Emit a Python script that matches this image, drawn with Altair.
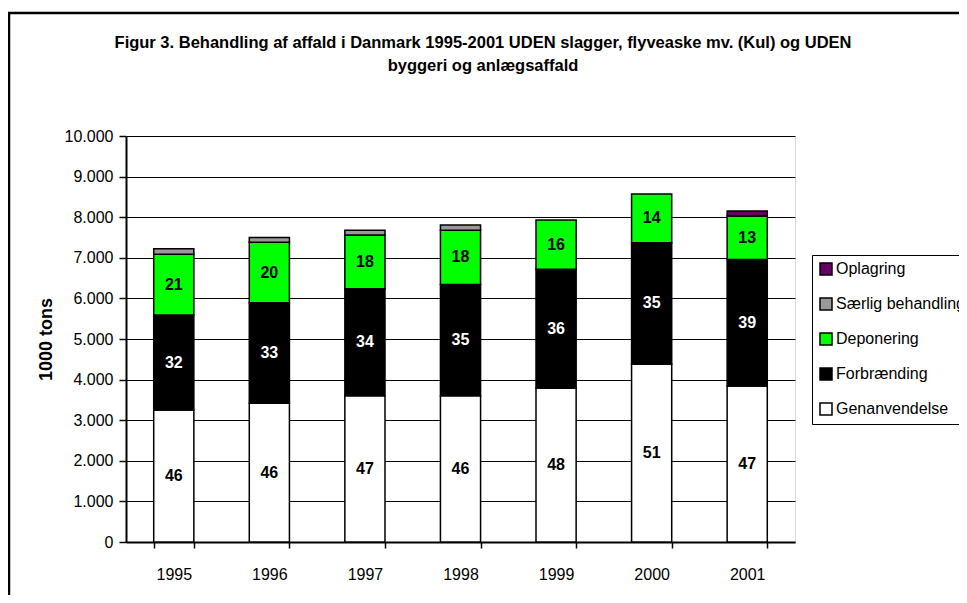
import altair as alt
import pandas as pd

years = ["1995", "1996", "1997", "1998", "1999", "2000", "2001"]
genanvendelse = [3250, 3420, 3600, 3600, 3790, 4380, 3840]
forbraending = [2340, 2470, 2640, 2740, 2930, 2990, 3120]
deponering = [1500, 1490, 1320, 1340, 1210, 1200, 1070]
saerlig = [130, 120, 120, 130, 0, 0, 0]
oplagring = [0, 0, 0, 0, 0, 0, 120]

pct_gen = [46, 46, 47, 46, 48, 51, 47]
pct_forb = [32, 33, 34, 35, 36, 35, 39]
pct_dep = [21, 20, 18, 18, 16, 14, 13]

categories = ["Genanvendelse", "Forbrænding", "Deponering", "Særlig behandling", "Oplagring"]
legend_order = ["Oplagring", "Særlig behandling", "Deponering", "Forbrænding", "Genanvendelse"]
legend_colors = ["#660066", "#999999", "#00FF00", "#000000", "#FFFFFF"]
y_ticks = [0, 1000, 2000, 3000, 4000, 5000, 6000, 7000, 8000, 9000, 10000]

title_line1 = "Figur 3. Behandling af affald i Danmark 1995-2001 UDEN slagger, flyveaske mv. (Kul) og UDEN"
title_line2 = "byggeri og anlægsaffald"

series = [genanvendelse, forbraending, deponering, saerlig, oplagring]
labels = [pct_gen, pct_forb, pct_dep, None, None]
label_colors = ["black", "white", "black", "black", "black"]

rows = []
for ci, (cat, vals) in enumerate(zip(categories, series)):
    for yi, yr in enumerate(years):
        rows.append({
            "year": yr,
            "category": cat,
            "value": vals[yi],
            "order": ci,
            "label": "" if labels[ci] is None else str(labels[ci][yi]),
            "lcolor": label_colors[ci],
        })
df = pd.DataFrame(rows)

FONT = "Liberation Sans"

base = alt.Chart(df).transform_stack(
    stack="value", as_=["v0", "v1"], groupby=["year"], sort=[alt.SortField("order")]
).transform_calculate(mid="(datum.v0 + datum.v1) / 2")

xenc = alt.X(
    "year:N",
    sort=years,
    scale=alt.Scale(paddingInner=0.58, paddingOuter=0.29),
    axis=alt.Axis(
        title=None, labelAngle=0, tickBand="extent", grid=False,
        domainColor="black", domainWidth=2, tickColor="black", tickWidth=1.5, tickSize=6,
        labelFont=FONT, labelFontSize=16, labelColor="black", labelPadding=18,
    ),
)

bars = base.transform_filter("datum.value > 0").mark_bar(
    stroke="black", strokeWidth=1.5
).encode(
    x=xenc,
    y=alt.Y(
        "v0:Q",
        scale=alt.Scale(domain=[0, 10000], nice=False),
        axis=alt.Axis(
            title="1000 tons", values=y_ticks,
            labelExpr="replace(format(datum.value, ','), ',', '.')",
            grid=True, gridColor="black", gridWidth=1,
            domainColor="black", domainWidth=2, tickColor="black", tickWidth=1.5, tickSize=7,
            labelFont=FONT, labelFontSize=16, labelColor="black", labelPadding=6,
            titleFont=FONT, titleFontSize=18, titleFontWeight="bold", titleColor="black",
            titlePadding=9,
        ),
    ),
    y2="v1:Q",
    color=alt.Color(
        "category:N",
        scale=alt.Scale(domain=legend_order, range=legend_colors),
        legend=alt.Legend(
            title=None, orient="none", legendX=686, legendY=119,
            strokeColor="black", fillColor="white", padding=6,
            symbolType="square", symbolSize=144, symbolStrokeColor="black", symbolStrokeWidth=1.5,
            labelFont=FONT, labelFontSize=16, labelColor="black", labelOffset=2,
            rowPadding=17,
        ),
    ),
    order=alt.Order("order:Q"),
)

texts = base.transform_filter("datum.label != ''").mark_text(
    font=FONT, fontSize=16, fontWeight="bold", baseline="middle", align="center"
).encode(
    x=alt.X("year:N", sort=years),
    y=alt.Y("mid:Q"),
    text="label:N",
    color=alt.Color("lcolor:N", scale=None),
)

frame = alt.Chart(alt.Data(values=[{}])).mark_rect(
    fill="transparent", stroke="black", strokeWidth=2.5
).encode(
    x=alt.value(-117), x2=alt.value(900), y=alt.value(-123), y2=alt.value(600)
)

title1 = alt.Chart(alt.Data(values=[{"t": title_line1}])).mark_text(
    font=FONT, fontSize=16.5, fontWeight="bold", color="black", align="center", baseline="middle"
).encode(x=alt.value(357), y=alt.value(-93), text="t:N")

title2 = alt.Chart(alt.Data(values=[{"t": title_line2}])).mark_text(
    font=FONT, fontSize=16.5, fontWeight="bold", color="black", align="center", baseline="middle"
).encode(x=alt.value(357), y=alt.value(-70), text="t:N")

chart = alt.layer(frame, title1, title2, bars, texts).properties(
    width=669, height=406,
    padding={"left": 118, "top": 128, "right": 164, "bottom": 53},
    autosize=alt.AutoSizeParams(type="none"),
).configure_view(
    stroke="#808080", strokeWidth=2.5, fill="white"
).configure(background="white")

chart.save("out.html", embed_options={"renderer": "svg", "actions": False})
